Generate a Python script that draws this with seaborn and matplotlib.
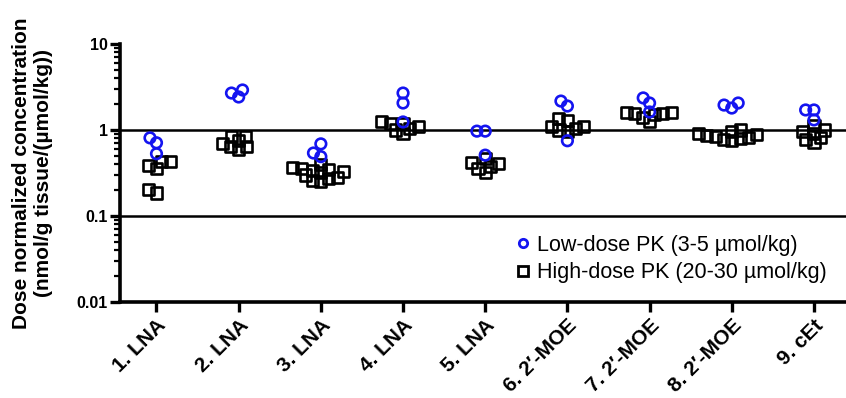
import matplotlib
matplotlib.use("Agg")
import matplotlib.pyplot as plt
from matplotlib.lines import Line2D
from matplotlib.markers import MarkerStyle
from matplotlib.transforms import Affine2D
from matplotlib.ticker import LogLocator, NullFormatter
import seaborn as sns
import pandas as pd

categories = ["1. LNA", "2. LNA", "3. LNA", "4. LNA", "5. LNA",
              "6. 2\u2032-MOE", "7. 2\u2032-MOE", "8. 2\u2032-MOE", "9. cEt"]

low_dose = [
    [0.71, 0.81, 0.53],
    [2.69, 2.42, 2.92],
    [0.69, 0.49, 0.54],
    [2.69, 2.06, 1.24],
    [0.97, 0.97, 0.51],
    [2.17, 1.90, 0.75],
    [2.36, 2.06, 1.62],
    [1.80, 1.95, 2.06],
    [1.31, 1.71, 1.71],
]

high_dose = [
    [0.43, 0.36, 0.39, 0.43, 0.185, 0.205],
    [0.65, 0.85, 0.65, 0.70, 0.85, 0.60, 0.75],
    [0.40, 0.37, 0.36, 0.35, 0.34, 0.33, 0.32, 0.30, 0.28, 0.27, 0.26, 0.25],
    [1.05, 1.00, 1.20, 1.25, 1.20, 0.92, 1.10],
    [0.42, 0.32, 0.47, 0.36, 0.41, 0.38],
    [1.30, 1.10, 1.35, 1.00, 1.05, 1.10, 0.95],
    [1.55, 1.60, 1.60, 1.55, 1.40, 1.25, 1.50],
    [1.00, 0.96, 0.92, 0.89, 0.86, 0.84, 0.82, 0.80, 0.78, 0.76],
    [0.95, 0.72, 1.00, 0.78, 1.12, 0.82, 0.90],
]

legend_labels = ["Low-dose PK (3-5 \u00b5mol/kg)", "High-dose PK (20-30 \u00b5mol/kg)"]
y_ticks = [0.01, 0.1, 1, 10]
y_tick_labels = ["0.01", "0.1", "1", "10"]
y_label = "Dose normalized concentration\n(nmol/g tissue/(\u00b5mol/kg))"

BLUE = "#1414f0"


def long_form(groups):
    rows = []
    for cat, vals in zip(categories, groups):
        for v in vals:
            rows.append({"compound": cat, "value": v})
    return pd.DataFrame(rows)


df_low = long_form(low_dose)
df_high = long_form(high_dose)

sns.set_style("ticks")
plt.rcParams["font.family"] = ["Liberation Sans", "DejaVu Sans"]
plt.rcParams.update({
    "text.color": "black",
    "axes.labelcolor": "black",
    "xtick.color": "black",
    "ytick.color": "black",
    "axes.edgecolor": "black",
})

fig = plt.figure(figsize=(8.46, 3.98), dpi=100)
ax = fig.add_axes([120 / 846, 1 - 302 / 398, 726 / 846, (302 - 44) / 398])
ax.set_yscale("log")

# markers are drawn larger than the size used for the swarm layout,
# so that neighbouring points overlap a little, as in the original
GROW = 2.0
sq_marker = MarkerStyle("s", transform=Affine2D().scale(GROW))
ci_marker = MarkerStyle("o", transform=Affine2D().scale(GROW))

n0 = len(ax.collections)
sns.swarmplot(data=df_high, x="compound", y="value", order=categories,
              marker=sq_marker, size=8 / GROW, color="black", linewidth=1.9,
              ax=ax, zorder=3, warn_thresh=1.0)
n1 = len(ax.collections)
for c in ax.collections[n0:n1]:
    c.set_facecolor("none")
    c.set_edgecolor("black")

sns.swarmplot(data=df_low, x="compound", y="value", order=categories,
              marker=ci_marker, size=7.6 / GROW, color=BLUE, linewidth=1.9,
              ax=ax, zorder=4, warn_thresh=1.0)
n2 = len(ax.collections)
for c in ax.collections[n1:n2]:
    c.set_facecolor("none")
    c.set_edgecolor(BLUE)

ax.set_yscale("log")
ax.set_ylim(0.01, 10)
ax.set_xlim(-0.444, 8.39)

ax.axhline(1, color="black", lw=1.8, zorder=2)
ax.axhline(0.1, color="black", lw=1.8, zorder=2)

for s in ["top", "right"]:
    ax.spines[s].set_visible(False)
for s in ["left", "bottom"]:
    ax.spines[s].set_linewidth(2.6)
    ax.spines[s].set_color("black")

ax.set_yticks(y_ticks)
ax.set_yticklabels(y_tick_labels, fontsize=11.5, fontweight="bold", color="black")
ax.yaxis.set_minor_locator(LogLocator(base=10, subs=[2, 3, 4, 5, 6, 7, 8, 9]))
ax.yaxis.set_minor_formatter(NullFormatter())
ax.tick_params(axis="y", which="major", length=7, width=2.4, direction="out", pad=2, colors="black")
ax.tick_params(axis="y", which="minor", length=4.5, width=1.6, direction="out", colors="black")
ax.tick_params(axis="x", which="major", length=7, width=2.4, direction="out", pad=3, colors="black")

ax.set_xticks(range(len(categories)))
ax.set_xticklabels(categories, rotation=45, ha="right", rotation_mode="anchor",
                   fontsize=15, fontweight="bold", color="black")
ax.set_xlabel("")
ax.set_ylabel(y_label, fontsize=15, fontweight="bold", labelpad=17, linespacing=1.15,
              color="black")

handles = [
    Line2D([], [], marker="o", ls="", mfc="none", mec=BLUE, mew=2.0, ms=6),
    Line2D([], [], marker="s", ls="", mfc="none", mec="black", mew=2.0, ms=7),
]
leg = ax.legend(handles, legend_labels, loc="upper left",
                bbox_to_anchor=(512 / 846, 1 - 235 / 398), bbox_transform=fig.transFigure,
                frameon=False, fontsize=15.5, handletextpad=0.15, handlelength=1.0,
                labelspacing=0.3, borderaxespad=0, borderpad=0)
for t in leg.get_texts():
    t.set_color("black")

fig.savefig("out.png", dpi=100)
